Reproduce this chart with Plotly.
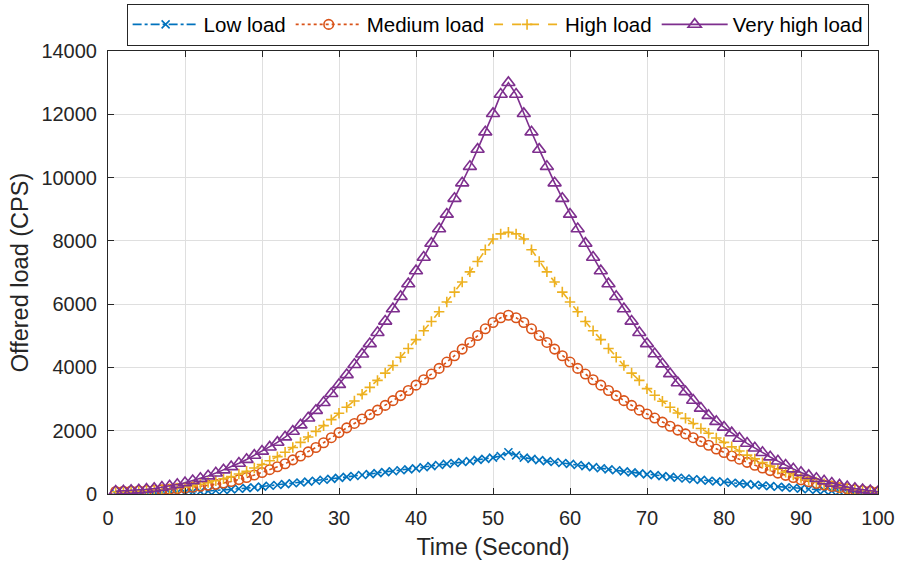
import plotly.graph_objects as go

time_s = list(range(1, 101))

low_load = [10, 10, 15, 15, 20, 25, 30, 40, 45, 55,
            65, 80, 95, 110, 125, 145, 165, 185, 210, 235,
            260, 285, 310, 340, 365, 390, 420, 450, 480, 510,
            540, 570, 600, 630, 660, 690, 720, 750, 780, 810,
            845, 880, 915, 950, 980, 1010, 1040, 1080, 1110, 1150,
            1200, 1320, 1220, 1150, 1110, 1070, 1040, 1010, 980, 950,
            915, 880, 850, 815, 780, 750, 715, 685, 650, 620,
            595, 565, 540, 515, 490, 465, 445, 420, 400, 380,
            355, 335, 310, 290, 270, 250, 230, 210, 190, 170,
            150, 130, 115, 95, 80, 65, 50, 40, 30, 20]

medium_load = [80, 88, 95, 105, 112, 122, 135, 150, 170, 190,
               215, 245, 275, 305, 345, 395, 455, 520, 600, 680,
               770, 860, 955, 1080, 1200, 1330, 1470, 1620, 1780, 1940,
               2090, 2230, 2370, 2510, 2650, 2800, 2950, 3110, 3270, 3440,
               3610, 3790, 3970, 4170, 4370, 4580, 4790, 5010, 5220, 5420,
               5570, 5650, 5570, 5420, 5220, 5010, 4790, 4580, 4370, 4170,
               3970, 3790, 3610, 3440, 3270, 3110, 2950, 2800, 2650, 2530,
               2400, 2270, 2140, 2020, 1900, 1780, 1660, 1540, 1420, 1310,
               1200, 1100, 1000, 910, 820, 740, 660, 590, 520, 450,
               390, 335, 285, 240, 200, 165, 135, 110, 90, 70]

high_load = [70, 75, 80, 90, 100, 115, 135, 160, 190, 225,
             265, 310, 360, 420, 480, 550, 630, 720, 820, 930,
             1050, 1180, 1320, 1470, 1630, 1800, 1980, 2160, 2350, 2550,
             2740, 2940, 3150, 3370, 3590, 3820, 4060, 4320, 4600, 4880,
             5160, 5450, 5760, 6070, 6380, 6700, 7020, 7350, 7720, 8060,
             8220, 8270, 8220, 8060, 7720, 7350, 7020, 6700, 6380, 6070,
             5760, 5450, 5160, 4880, 4600, 4320, 4060, 3820, 3590, 3330,
             3120, 2930, 2740, 2560, 2390, 2230, 2070, 1920, 1770, 1630,
             1490, 1360, 1230, 1110, 990, 880, 780, 690, 600, 520,
             450, 380, 320, 265, 215, 175, 140, 110, 85, 65]

very_high_load = [85, 95, 108, 125, 148, 175, 210, 250, 300, 355,
                  420, 490, 570, 660, 760, 860, 970, 1090, 1220, 1350,
                  1480, 1630, 1800, 1980, 2180, 2400, 2640, 2890, 3170, 3460,
                  3770, 4090, 4420, 4750, 5100, 5460, 5850, 6240, 6640, 7050,
                  7480, 7920, 8380, 8840, 9340, 9830, 10350, 10890, 11440, 12020,
                  12630, 13000, 12630, 12020, 11440, 10890, 10350, 9830, 9340, 8840,
                  8380, 7920, 7480, 7050, 6640, 6240, 5850, 5460, 5100, 4750,
                  4430, 4110, 3800, 3510, 3230, 2960, 2710, 2480, 2290, 2110,
                  1930, 1760, 1600, 1450, 1310, 1170, 1040, 910, 790, 680,
                  580, 490, 410, 340, 280, 225, 175, 135, 100, 70]

series_names = ["Low load", "Medium load", "High load", "Very high load"]
series_values = [low_load, medium_load, high_load, very_high_load]
colors = ["#0072BD", "#D95319", "#EDB120", "#7E2F8E"]
dashes = ["dashdot", "dot", "dash", "solid"]
symbols = ["x-thin-open", "circle-open", "cross-thin-open", "triangle-up-open"]
sizes = [8, 9.5, 7.5, 11.5]

x_ticks = list(range(0, 101, 10))
y_ticks = list(range(0, 14001, 2000))

FONT = "Liberation Sans, Arial, Helvetica, sans-serif"
AX = "#262626"

fig = go.Figure()
for name, vals, c, d, s, sz in zip(series_names, series_values, colors, dashes, symbols, sizes):
    fig.add_trace(go.Scatter(
        x=time_s, y=vals, name=name, mode="lines+markers",
        line=dict(color=c, width=1.6, dash=d),
        marker=dict(symbol=s, size=sz, color=c, line=dict(color=c, width=1.6)),
    ))

fig.update_layout(
    width=898, height=568,
    margin=dict(l=108, r=20, t=51, b=74, autoexpand=False),
    paper_bgcolor="white", plot_bgcolor="white",
    font=dict(family=FONT, size=20, color=AX),
    showlegend=True,
    legend=dict(
        orientation="h", x=0.506, xanchor="center", y=1.107, yanchor="top",
        bordercolor=AX, borderwidth=1, bgcolor="white",
        font=dict(family=FONT, size=20.5, color="black"),
        itemwidth=66, tracegroupgap=0,
    ),
)

fig.update_xaxes(
    range=[0, 100], tickvals=x_ticks, ticktext=[str(v) for v in x_ticks],
    showgrid=True, gridcolor="#DFDFDF", gridwidth=1,
    showline=True, linecolor=AX, linewidth=1, mirror="ticks",
    ticks="inside", ticklen=6, tickcolor=AX,
    tickfont=dict(family=FONT, size=20, color=AX), ticklabelstandoff=6,
    title=dict(text="Time (Second)", font=dict(family=FONT, size=23.5, color=AX), standoff=10),
    zeroline=False, automargin=False,
)
fig.update_yaxes(
    range=[0, 14000], tickvals=y_ticks, ticktext=[str(v) for v in y_ticks],
    showgrid=True, gridcolor="#DFDFDF", gridwidth=1,
    showline=True, linecolor=AX, linewidth=1, mirror="ticks",
    ticks="inside", ticklen=6, tickcolor=AX,
    tickfont=dict(family=FONT, size=20, color=AX), ticklabelstandoff=6,
    title=dict(text="Offered load (CPS)", font=dict(family=FONT, size=23.5, color=AX), standoff=6),
    zeroline=False, automargin=False,
)

fig.write_html("out.html")
